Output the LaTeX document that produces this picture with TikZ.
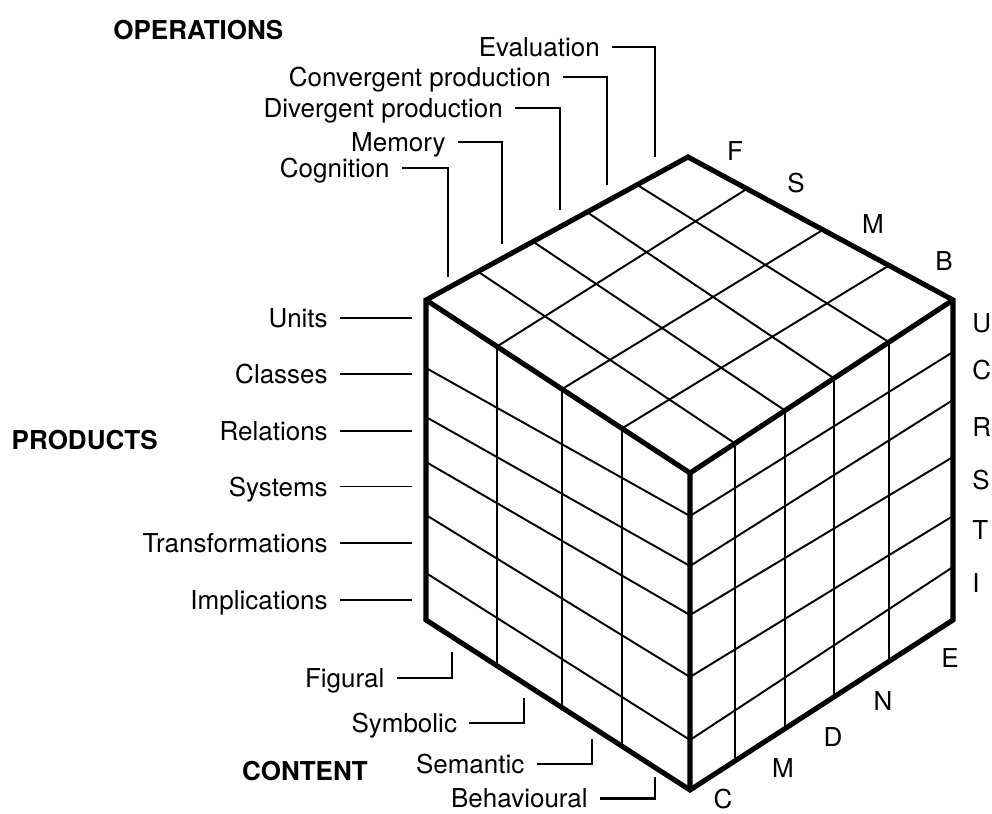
\documentclass[tikz,border=0pt]{standalone}
\usepackage{fontspec}
\setmainfont{TeX Gyre Heros}

\begin{document}
\begin{tikzpicture}[
            x=0.02cm, y=-0.02cm,
            edge/.style={line width=2.9pt},
            grid/.style={line width=1.1pt},
            leader/.style={line width=1.3pt},
            entry/.style={font=\fontsize{14.8}{18}\selectfont, inner xsep=6.8pt, inner ysep=0pt, text height=10.6pt, text depth=0pt, anchor=east},
            letter/.style={font=\fontsize{14.8}{18}\selectfont, inner sep=0pt},
            heading/.style={font=\fontsize{14.8}{18}\selectfont\bfseries, inner sep=0pt}
        ]
            \useasboundingbox (0,0) rectangle (992,814);

            % corners of the cube
            \coordinate (TL) at (426,300);
            \coordinate (BK) at (688,157);
            \coordinate (TR) at (953,300);
            \coordinate (FT) at (690,473);
            \coordinate (BL) at (426,620);
            \coordinate (FB) at (690,790);
            \coordinate (BR) at (953,620);

            % cells: top face
            \draw[grid] (478,271.6) -- (735,443.4) (533,241.6) -- (785,410.5) (587,212.1) -- (834,378.3) (637,184.8) -- (889,342.1);
            \draw[grid] (497,346.5) -- (747,188.8) (562,389.1) -- (823,229.8) (622,428.4) -- (889,265.5);
            % cells: left face
            \draw[grid] (497,346.5) -- (497,665.7) (562,389.1) -- (562,707.6) (622,428.4) -- (622,746.2);
            \draw[grid] (426,368) -- (690,516) (426,417) -- (690,566) (426,462) -- (690,615) (426,515) -- (690,677) (426,573) -- (690,740);
            % cells: right face
            \draw[grid] (735,443.4) -- (735,760.9) (785,410.5) -- (785,728.6) (834,378.3) -- (834,696.9) (889,342.1) -- (889,661.4);
            \draw[grid] (690,516) -- (953,352) (690,566) -- (953,400) (690,615) -- (953,457) (690,677) -- (953,516) (690,740) -- (953,567);

            % outline
            \draw[edge] (TL) -- (BK) -- (TR) -- (BR) -- (FB) -- (BL) -- cycle;
            \draw[edge] (TL) -- (FT) -- (TR) (FT) -- (FB);

            % operations
            \node[heading, anchor=west] (operations) at (113,30) {OPERATIONS};
            \node[entry] (cognition) at (402,168.3) {Cognition};
            \node[entry] (memory) at (458,141.7) {Memory};
            \node[entry] (divergent) at (515,108.3) {Divergent production};
            \node[entry] (convergent) at (563,76.7) {Convergent production};
            \node[entry] (evaluation) at (612,46.7) {Evaluation};
            \coordinate (cognitionpt) at (447.7,276.7);
            \coordinate (memorypt) at (501.7,244);
            \coordinate (divergentpt) at (560,210);
            \coordinate (convergentpt) at (607.3,185);
            \coordinate (evaluationpt) at (655,156.7);
            \draw[leader] (cognition.east) -| (cognitionpt);
            \draw[leader] (memory.east) -| (memorypt);
            \draw[leader] (divergent.east) -| (divergentpt);
            \draw[leader] (convergent.east) -| (convergentpt);
            \draw[leader] (evaluation.east) -| (evaluationpt);

            % products
            \node[heading, anchor=east] (products) at (158,440) {PRODUCTS};
            \node[entry] (units) at (340,318.3) {Units};
            \node[entry] (classes) at (340,374.3) {Classes};
            \node[entry] (relations) at (340,431) {Relations};
            \node[entry] (systems) at (340,486.7) {Systems};
            \node[entry] (transformations) at (340,543.3) {Transformations};
            \node[entry] (implications) at (340,600) {Implications};
            \coordinate (unitspt) at (411.7,318.3);
            \coordinate (classespt) at (411.7,374.3);
            \coordinate (relationspt) at (411.7,431);
            \coordinate (systemspt) at (411.7,486.7);
            \coordinate (transformationspt) at (411.7,543.3);
            \coordinate (implicationspt) at (411.7,600);
            \draw[leader] (units.east) -- (unitspt);
            \draw[leader] (classes.east) -- (classespt);
            \draw[leader, line width=0.9pt] (relations.east) -- (relationspt);
            \draw[leader, line width=0.9pt] (systems.east) -- (systemspt);
            \draw[leader] (transformations.east) -- (transformationspt);
            \draw[leader] (implications.east) -- (implicationspt);

            % content
            \node[heading, anchor=east] (content) at (368,771) {CONTENT};
            \node[entry] (figural) at (396.7,678.3) {Figural};
            \node[entry] (symbolic) at (469.3,723.3) {Symbolic};
            \node[entry] (semantic) at (536.7,764.3) {Semantic};
            \node[entry] (behavioural) at (600,798.5) {Behavioural};
            \coordinate (figuralpt) at (451.7,651.7);
            \coordinate (symbolicpt) at (524.3,698.3);
            \coordinate (semanticpt) at (591.7,739.3);
            \coordinate (behaviouralpt) at (655,777);
            \draw[leader] (figural.east) -| (figuralpt);
            \draw[leader] (symbolic.east) -| (symbolicpt);
            \draw[leader] (semantic.east) -| (semanticpt);
            \draw[leader] (behavioural.east) -| (behaviouralpt);

            % letters along the edges
            \node[letter] (topF) at (735,151) {F};
            \node[letter] (topS) at (796,183) {S};
            \node[letter] (topM) at (873,224) {M};
            \node[letter] (topB) at (944,261) {B};
            \node[letter, anchor=west] (rowU) at (972,323) {U};
            \node[letter, anchor=west] (rowC) at (972,370) {C};
            \node[letter, anchor=west] (rowR) at (972,427) {R};
            \node[letter, anchor=west] (rowS) at (972,480) {S};
            \node[letter, anchor=west] (rowT) at (972,530) {T};
            \node[letter, anchor=west] (rowI) at (972,583) {I};
            \node[letter] (colC) at (723,799) {C};
            \node[letter] (colM) at (783,768) {M};
            \node[letter] (colD) at (833,737) {D};
            \node[letter] (colN) at (883,701) {N};
            \node[letter] (colE) at (950,658) {E};
        \end{tikzpicture}
\end{document}
